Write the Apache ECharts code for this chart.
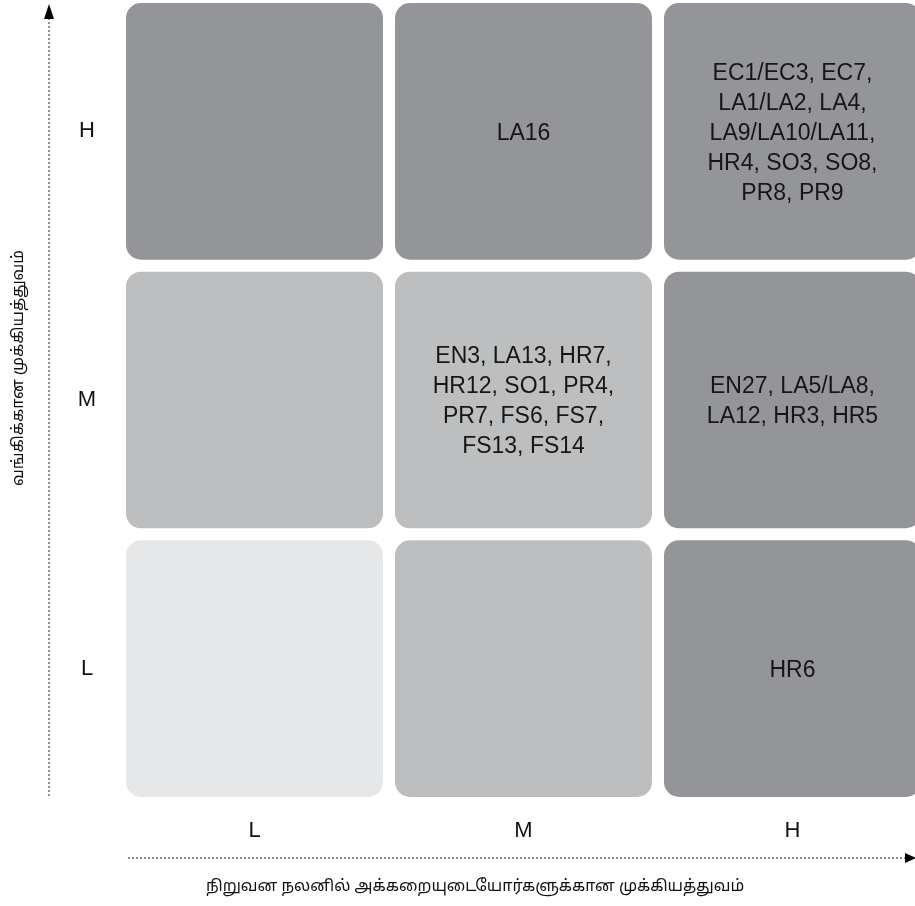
<!DOCTYPE html>
<html>
<head>
<meta charset="utf-8">
<script src="https://cdn.jsdelivr.net/npm/echarts@6/dist/echarts.min.js"></script>
<style>html,body{margin:0;padding:0;background:#fff}#c{width:915px;height:906px}</style>
</head>
<body>
<div id="c"></div>
<script>
const xCategories = ['L', 'M', 'H'];
const yCategories = ['L', 'M', 'H'];
const xAxisName = 'நிறுவன நலனில் அக்கறையுடையோர்களுக்கான முக்கியத்துவம்';
const yAxisName = 'வங்கிக்கான முக்கியத்துவம்';
// cells: column (x category), row (y category), shade level, text
const cellX = ['L', 'M', 'H', 'L', 'M', 'H', 'L', 'M', 'H'];
const cellY = ['H', 'H', 'H', 'M', 'M', 'M', 'L', 'L', 'L'];
const cellLevel = [3, 3, 3, 2, 2, 3, 1, 2, 3];
const cellText = [
  '',
  'LA16',
  'EC1/EC3, EC7,\nLA1/LA2, LA4,\nLA9/LA10/LA11,\nHR4, SO3, SO8,\nPR8, PR9',
  '',
  'EN3, LA13, HR7,\nHR12, SO1, PR4,\nPR7, FS6, FS7,\nFS13, FS14',
  'EN27, LA5/LA8,\nLA12, HR3, HR5',
  '',
  '',
  'HR6'
];
const levelColors = { 1: '#e6e7e8', 2: '#bcbec0', 3: '#939598' };

const data = cellX.map((x, i) => [x, cellY[i], cellLevel[i], cellText[i]]);

const chart = echarts.init(document.getElementById('c'));
const font = '"Liberation Sans", Arial, Helvetica, sans-serif';
const tamilFont = '"Noto Sans Tamil", "Latha", "Lohit Tamil", "Noto Sans", sans-serif';

chart.setOption({
  animation: false,
  grid: { left: 120, top: -3, width: 807, height: 806, outerBoundsMode: 'none', containLabel: false },
  xAxis: {
    type: 'category', data: xCategories,
    axisLine: { show: false }, axisTick: { show: false }, splitLine: { show: false },
    axisLabel: { fontSize: 22, color: '#111', fontFamily: font, margin: 17 }
  },
  yAxis: {
    type: 'category', data: yCategories,
    axisLine: { show: false }, axisTick: { show: false }, splitLine: { show: false },
    axisLabel: { fontSize: 22, color: '#111', fontFamily: font, margin: 33, align: 'center' }
  },
  series: [{
    type: 'custom',
    data: data,
    encode: { x: 0, y: 1 },
    renderItem: function (params, api) {
      const c = api.coord([api.value(0), api.value(1)]);
      const size = api.size([1, 1]);
      const gap = 12;
      const w = size[0] - gap, h = size[1] - gap;
      const lvl = api.value(2);
      return {
        type: 'group',
        children: [{
          type: 'rect',
          shape: { x: c[0] - w / 2, y: c[1] - h / 2, width: w, height: h, r: 15 },
          style: { fill: levelColors[lvl] }
        }, {
          type: 'text',
          x: c[0], y: c[1] + 2,
          style: {
            text: data[params.dataIndex][3],
            fill: '#161616',
            font: '23px ' + font,
            lineHeight: 30,
            align: 'center',
            verticalAlign: 'middle'
          }
        }]
      };
    }
  }],
  graphic: [
    { type: 'line', shape: { x1: 49, y1: 18, x2: 49, y2: 797 },
      style: { stroke: '#222', lineWidth: 1, lineDash: [2, 2] } },
    { type: 'polygon', shape: { points: [[49, 4], [44, 19], [54, 19]] }, style: { fill: '#000' } },
    { type: 'line', shape: { x1: 128, y1: 858, x2: 905, y2: 858 },
      style: { stroke: '#222', lineWidth: 1, lineDash: [2, 2] } },
    { type: 'polygon', shape: { points: [[916, 858], [905, 853], [905, 863]] }, style: { fill: '#000' } },
    { type: 'text', x: 475, y: 888,
      style: { text: xAxisName, font: '16px ' + tamilFont, fill: '#111', align: 'center', verticalAlign: 'middle' } },
    { type: 'text', x: 20, y: 368, rotation: Math.PI / 2,
      style: { text: yAxisName, font: '16px ' + tamilFont, fill: '#111', align: 'center', verticalAlign: 'middle' } }
  ]
});
</script>
</body>
</html>
